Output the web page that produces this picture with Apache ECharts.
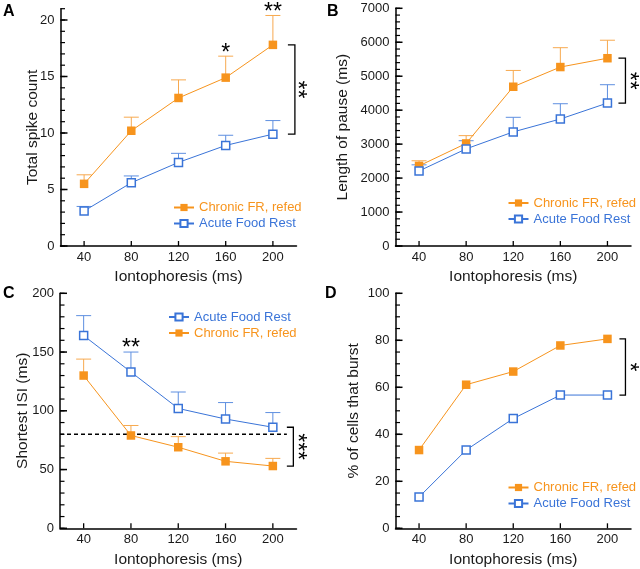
<!DOCTYPE html>
<html><head><meta charset="utf-8">
<script src="https://cdn.jsdelivr.net/npm/echarts@6/dist/echarts.min.js"></script>
<style>html,body{margin:0;padding:0;background:#fff}#c{width:640px;height:569px}</style>
</head><body><div id="c"></div>
<script>
const categories = ['40', '80', '120', '160', '200'];
const nameChronic = 'Chronic FR, refed';
const nameAcute = 'Acute Food Rest';

// Panel A: Total spike count
const aChronic = [5.5, 10.2, 13.1, 14.9, 17.8];
const aChronicErr = [6.3, 11.4, 14.7, 16.8, 20.4];
const aAcute = [3.1, 5.6, 7.4, 8.9, 9.9];
const aAcuteErr = [3.5, 6.2, 8.2, 9.8, 11.1];
const aTicks = [0, 5, 10, 15, 20];

// Panel B: Length of pause (ms)
const bChronic = [2360, 3020, 4690, 5270, 5530];
const bChronicErr = [2510, 3250, 5170, 5840, 6060];
const bAcute = [2210, 2860, 3360, 3740, 4210];
const bAcuteErr = [2390, 3100, 3790, 4190, 4750];
const bTicks = [0, 1000, 2000, 3000, 4000, 5000, 6000, 7000];

// Panel C: Shortest ISI (ms)
const cAcute = [164, 133, 102, 93, 86];
const cAcuteErr = [181, 150, 116, 107, 98.5];
const cChronic = [130, 79, 69, 57, 53];
const cChronicErr = [144, 87.5, 78, 64, 59.5];
const cThreshold = 80;
const cTicks = [0, 50, 100, 150, 200];

// Panel D: % of cells that burst
const dChronic = [33.3, 61.1, 66.7, 77.8, 80.6];
const dAcute = [13.3, 33.3, 46.7, 56.7, 56.7];
const dTicks = [0, 20, 40, 60, 80, 100];

// Significance annotations
const starsA = [{cat: 3, y: 16.8, text: '*'}, {cat: 4, y: 20.4, text: '**'}];
const starsC = [{cat: 1, y: 150, text: '**'}];

const ORANGE = '#F7941D', BLUE = '#3A74D8';
const ORANGE_ERR = '#F7A94F', BLUE_ERR = '#5E8FE0';
const FONT = 'Liberation Sans, Arial, Helvetica, sans-serif';
const TXT = '#1a1a1a';
const TICK = '#000';

function range(max, step) { const r = []; for (let v = 0; v <= max + 1e-9; v += step) r.push(+v.toFixed(6)); return r; }

const chart = echarts.init(document.getElementById('c'), null, {renderer: 'canvas'});

const grids = [
  {left: 60.5, top: 8.7, width: 236, height: 237.3},
  {left: 395.5, top: 8.3, width: 235.5, height: 237.7},
  {left: 60, top: 293.3, width: 236.5, height: 235},
  {left: 395.5, top: 293.3, width: 235.5, height: 235}
];

function xAx(i) {
  return {
    type: 'category', gridIndex: i, data: categories, boundaryGap: true,
    axisLine: {lineStyle: {color: '#000', width: 1.5}},
    axisTick: {show: false},
    axisLabel: {fontSize: 13, color: TXT, fontFamily: FONT, margin: 5},
    name: 'Iontophoresis (ms)', nameLocation: 'middle', nameGap: 23, nameMoveOverlap: false,
    nameTextStyle: {fontSize: 15.5, color: TXT, fontFamily: FONT}
  };
}
function yAx(i, ticks, max, name, gap) {
  return {
    type: 'value', gridIndex: i, position: 'left', min: 0, max: max,
    interval: ticks[1] - ticks[0],
    axisLine: {show: true, lineStyle: {color: '#000', width: 1.5}},
    axisTick: {show: false}, minorTick: {show: false},
    splitLine: {show: false},
    axisLabel: {fontSize: 13, color: TXT, fontFamily: FONT, margin: 6, customValues: ticks, formatter: v => String(v)},
    name: name, nameGap: gap,
    nameLocation: 'middle', nameRotate: 90, nameMoveOverlap: false,
    nameTextStyle: {fontSize: 15.5, color: TXT, fontFamily: FONT}
  };
}

// inward ticks, positioned through each axis's own scale
function yTickSeries(gi, values, len, width) {
  return {
    type: 'custom', xAxisIndex: gi, yAxisIndex: gi, z: 6, silent: true,
    data: values.map(v => [0, v]),
    renderItem(params, api) {
      const y = api.coord([0, api.value(1)])[1];
      const x = params.coordSys.x;
      return {type: 'line', shape: {x1: x, y1: y, x2: x + len, y2: y}, style: {stroke: TICK, lineWidth: width}};
    }
  };
}
function xTickSeries(gi) {
  return {
    type: 'custom', xAxisIndex: gi, yAxisIndex: gi, z: 6, silent: true,
    data: categories.map((c, i) => [i, 0]),
    renderItem(params, api) {
      const x = api.coord([api.value(0), 0])[0];
      const y = params.coordSys.y + params.coordSys.height;
      return {type: 'line', shape: {x1: x, y1: y, x2: x, y2: y - 5}, style: {stroke: TICK, lineWidth: 1.3}};
    }
  };
}

function lineSeries(gi, name, data, filled) {
  const color = filled ? ORANGE : BLUE;
  return {
    type: 'line', name: name, xAxisIndex: gi, yAxisIndex: gi, data: data, z: 3,
    symbol: 'rect', symbolSize: filled ? 8.5 : 8,
    lineStyle: {color: color, width: 1},
    itemStyle: filled ? {color: color} : {color: '#fff', borderColor: color, borderWidth: 1.5},
    emphasis: {disabled: true}, silent: true
  };
}
function errSeries(gi, vals, errs, color) {
  return {
    type: 'custom', xAxisIndex: gi, yAxisIndex: gi, z: 1, silent: true,
    data: vals.map((v, i) => [i, v, errs[i]]),
    renderItem(params, api) {
      const p0 = api.coord([api.value(0), api.value(1)]);
      const p1 = api.coord([api.value(0), api.value(2)]);
      const w = 7.5;
      return {type: 'group', children: [
        {type: 'line', shape: {x1: p0[0], y1: p0[1], x2: p1[0], y2: p1[1]}, style: {stroke: color, lineWidth: 1}},
        {type: 'line', shape: {x1: p1[0] - w, y1: p1[1], x2: p1[0] + w, y2: p1[1]}, style: {stroke: color, lineWidth: 1}}
      ]};
    }
  };
}
function starSeries(gi, items) {
  return {
    type: 'custom', xAxisIndex: gi, yAxisIndex: gi, z: 5, silent: true,
    data: items.map(s => [s.cat, s.y]),
    renderItem(params, api) {
      const p = api.coord([api.value(0), api.value(1)]);
      return {type: 'text', x: p[0], y: p[1] + 8.5, style: {
        text: items[params.dataIndex].text, fontSize: 23, fontFamily: FONT, fill: '#000',
        align: 'center', verticalAlign: 'bottom'}};
    }
  };
}
function bracketSeries(gi, top, bot, text, o1, o2, ot) {
  return {
    type: 'custom', xAxisIndex: gi, yAxisIndex: gi, z: 5, silent: true,
    data: [[categories.length - 1, top, bot]],
    renderItem(params, api) {
      const a = api.coord([api.value(0), api.value(1)]);
      const b = api.coord([api.value(0), api.value(2)]);
      const x1 = a[0] + o1, x2 = a[0] + o2;
      return {type: 'group', children: [
        {type: 'polyline', shape: {points: [[x1, a[1]], [x2, a[1]], [x2, b[1]], [x1, b[1]]]},
          style: {stroke: '#000', lineWidth: 1.3, fill: null}},
        {type: 'text', x: a[0] + ot, y: (a[1] + b[1]) / 2, rotation: -Math.PI / 2,
          style: {text: text, fontSize: 23, fontFamily: FONT, fill: '#000', align: 'center', verticalAlign: 'middle'}}
      ]};
    }
  };
}
function thresholdSeries(gi, val) {
  return {
    type: 'custom', xAxisIndex: gi, yAxisIndex: gi, z: 2, silent: true,
    data: [[categories.length - 1, val]],
    renderItem(params, api) {
      const p = api.coord([api.value(0), api.value(1)]);
      const x0 = params.coordSys.x;
      return {type: 'line', shape: {x1: x0, y1: p[1], x2: p[0] + 14, y2: p[1]},
        style: {stroke: '#000', lineWidth: 1.5, lineDash: [4, 3]}};
    }
  };
}
function legend(left, top, order) {
  return {
    left: left, top: top, orient: 'vertical', align: 'left', padding: 0,
    itemWidth: 20, itemHeight: 9, itemGap: 3, selectedMode: false,
    textStyle: {fontSize: 13, fontFamily: FONT, padding: [0, 0, 0, 0]},
    data: order.map(n => ({name: n, textStyle: {color: n === nameChronic ? ORANGE : BLUE}}))
  };
}

const option = {
  animation: false,
  backgroundColor: '#fff',
  textStyle: {fontFamily: FONT},
  grid: grids,
  xAxis: [xAx(0), xAx(1), xAx(2), xAx(3)],
  yAxis: [
    yAx(0, aTicks, 21, 'Total spike count', 20),
    yAx(1, bTicks, 7000, 'Length of pause (ms)', 45),
    yAx(2, cTicks, 200, 'Shortest ISI (ms)', 29.5),
    yAx(3, dTicks, 100, '% of cells that burst', 33.5)
  ],
  legend: [
    legend(173, 201, [nameChronic, nameAcute]),
    legend(507.5, 196.5, [nameChronic, nameAcute]),
    legend(168, 310.5, [nameAcute, nameChronic]),
    legend(507.5, 481, [nameChronic, nameAcute])
  ],
  graphic: [
    {type: 'text', left: 3, top: 4, style: {text: 'A', fontSize: 16, fontWeight: 'bold', fontFamily: FONT, fill: '#000'}},
    {type: 'text', left: 327, top: 4, style: {text: 'B', fontSize: 16, fontWeight: 'bold', fontFamily: FONT, fill: '#000'}},
    {type: 'text', left: 3, top: 286, style: {text: 'C', fontSize: 16, fontWeight: 'bold', fontFamily: FONT, fill: '#000'}},
    {type: 'text', left: 325, top: 286, style: {text: 'D', fontSize: 16, fontWeight: 'bold', fontFamily: FONT, fill: '#000'}}
  ],
  series: [
    yTickSeries(0, range(21, 1), 4.5, 1.2), yTickSeries(0, aTicks, 7, 1.5), xTickSeries(0),
    yTickSeries(1, range(7000, 200), 4.5, 1.2), yTickSeries(1, bTicks, 7, 1.5), xTickSeries(1),
    yTickSeries(2, range(200, 10), 4.5, 1.2), yTickSeries(2, cTicks, 7, 1.5), xTickSeries(2),
    yTickSeries(3, range(100, 5), 4.5, 1.2), yTickSeries(3, dTicks, 7, 1.5), xTickSeries(3),

    errSeries(0, aChronic, aChronicErr, ORANGE_ERR),
    errSeries(0, aAcute, aAcuteErr, BLUE_ERR),
    lineSeries(0, nameChronic, aChronic, true),
    lineSeries(0, nameAcute, aAcute, false),
    starSeries(0, starsA),
    bracketSeries(0, aChronic[4], aAcute[4], '**', 15, 22, 23.5),

    errSeries(1, bChronic, bChronicErr, ORANGE_ERR),
    errSeries(1, bAcute, bAcuteErr, BLUE_ERR),
    lineSeries(1, nameChronic, bChronic, true),
    lineSeries(1, nameAcute, bAcute, false),
    bracketSeries(1, bChronic[4], bAcute[4], '**', 11, 18, 21),

    errSeries(2, cAcute, cAcuteErr, BLUE_ERR),
    errSeries(2, cChronic, cChronicErr, ORANGE_ERR),
    thresholdSeries(2, cThreshold),
    lineSeries(2, nameAcute, cAcute, false),
    lineSeries(2, nameChronic, cChronic, true),
    starSeries(2, starsC),
    bracketSeries(2, cAcute[4], cChronic[4], '***', 14, 20.5, 23.5),

    lineSeries(3, nameChronic, dChronic, true),
    lineSeries(3, nameAcute, dAcute, false),
    bracketSeries(3, dChronic[4], dAcute[4], '*', 12, 18, 21)
  ]
};
chart.setOption(option);
</script>
</body></html>
